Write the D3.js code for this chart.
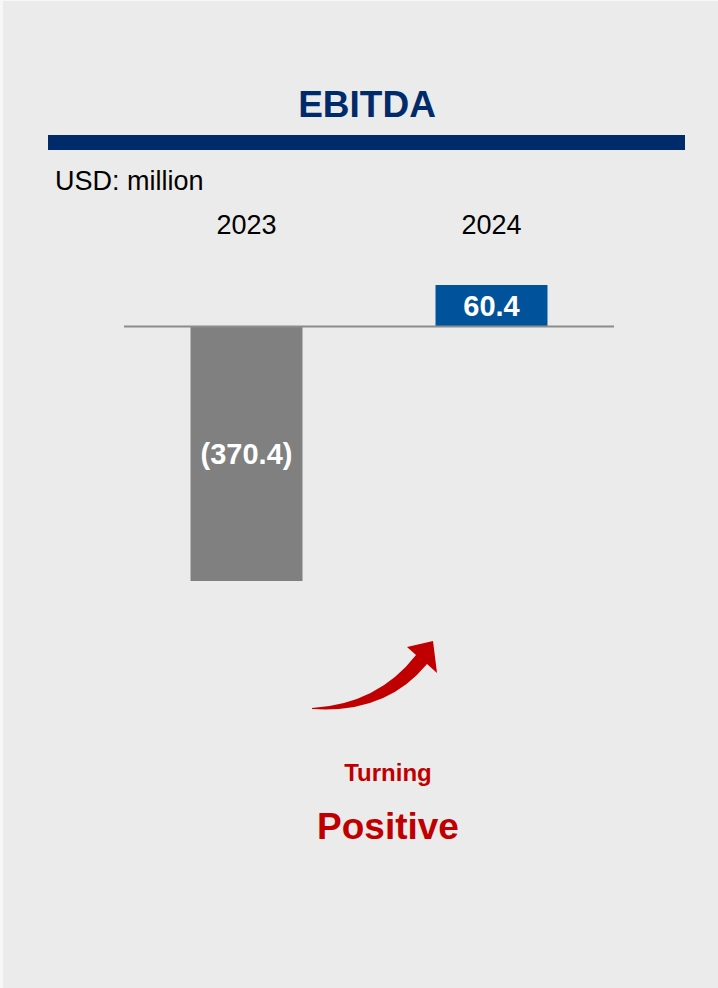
<!DOCTYPE html>
<html>
<head>
<meta charset="utf-8">
<script src="https://cdn.jsdelivr.net/npm/d3@7"></script>
<style>
  html, body { margin: 0; padding: 0; background: #f7f7f7; }
  svg { display: block; }
</style>
</head>
<body>
<svg width="718" height="988"></svg>
<script>
// chart data
const years = ["2023", "2024"];
const ebitda = [-370.4, 60.4];
const valueLabels = ["(370.4)", "60.4"];

const font = "'Liberation Sans', Arial, sans-serif";
const svg = d3.select("svg");

// panel background
svg.append("rect")
  .attr("x", 3).attr("y", 1)
  .attr("width", 715).attr("height", 987)
  .attr("fill", "#ebebeb");

// title + navy rule
svg.append("text")
  .attr("x", 367).attr("y", 117)
  .attr("text-anchor", "middle")
  .style("font-family", font)
  .style("font-size", "37px")
  .style("font-weight", "bold")
  .attr("fill", "#002b6b")
  .text("EBITDA");

svg.append("rect")
  .attr("x", 48).attr("y", 135)
  .attr("width", 637).attr("height", 15)
  .attr("fill", "#002b6b");

svg.append("text")
  .attr("x", 55).attr("y", 190)
  .style("font-family", font)
  .style("font-size", "27px")
  .attr("fill", "#000")
  .text("USD: million");

// scales
const x = d3.scaleBand()
  .domain(years)
  .range([124, 614])
  .padding(0);

const y = d3.scaleLinear()
  .domain([-370.4, 60.4])
  .range([581, 285]);

const barW = x.bandwidth() * 0.457;
const colors = ["#808080", "#00529b"];

// year headers
svg.selectAll(".year")
  .data(years)
  .enter()
  .append("text")
  .attr("class", "year")
  .attr("x", d => x(d) + x.bandwidth() / 2)
  .attr("y", 234)
  .attr("text-anchor", "middle")
  .style("font-family", font)
  .style("font-size", "27px")
  .attr("fill", "#000")
  .text(d => d);

// bars
svg.selectAll(".bar")
  .data(ebitda)
  .enter()
  .append("rect")
  .attr("class", "bar")
  .attr("x", (d, i) => x(years[i]) + x.bandwidth() / 2 - barW / 2)
  .attr("y", d => y(Math.max(0, d)))
  .attr("width", barW)
  .attr("height", d => Math.abs(y(d) - y(0)))
  .attr("fill", (d, i) => colors[i]);

// zero line
svg.append("line")
  .attr("x1", 124).attr("x2", 614)
  .attr("y1", y(0)).attr("y2", y(0))
  .attr("stroke", "#8c8c8c")
  .attr("stroke-width", 2);

// value labels inside bars
svg.selectAll(".val")
  .data(ebitda)
  .enter()
  .append("text")
  .attr("class", "val")
  .attr("x", (d, i) => x(years[i]) + x.bandwidth() / 2)
  .attr("y", d => (y(d) + y(0)) / 2)
  .attr("dy", "0.36em")
  .attr("text-anchor", "middle")
  .style("font-family", font)
  .style("font-size", "29px")
  .style("font-weight", "bold")
  .attr("fill", "#fff")
  .text((d, i) => valueLabels[i]);

// curved red arrow
svg.append("path")
  .attr("d", "M312,708 Q378,704 416,655 L407,647 L433,641 L437,673 L427,664 Q386,714 312,709 Z")
  .attr("fill", "#c00000");

svg.append("text")
  .attr("x", 388).attr("y", 781)
  .attr("text-anchor", "middle")
  .style("font-family", font)
  .style("font-size", "24px")
  .style("font-weight", "bold")
  .attr("fill", "#c00000")
  .text("Turning");

svg.append("text")
  .attr("x", 388).attr("y", 839)
  .attr("text-anchor", "middle")
  .style("font-family", font)
  .style("font-size", "37px")
  .style("font-weight", "bold")
  .attr("fill", "#c00000")
  .text("Positive");
</script>
</body>
</html>
